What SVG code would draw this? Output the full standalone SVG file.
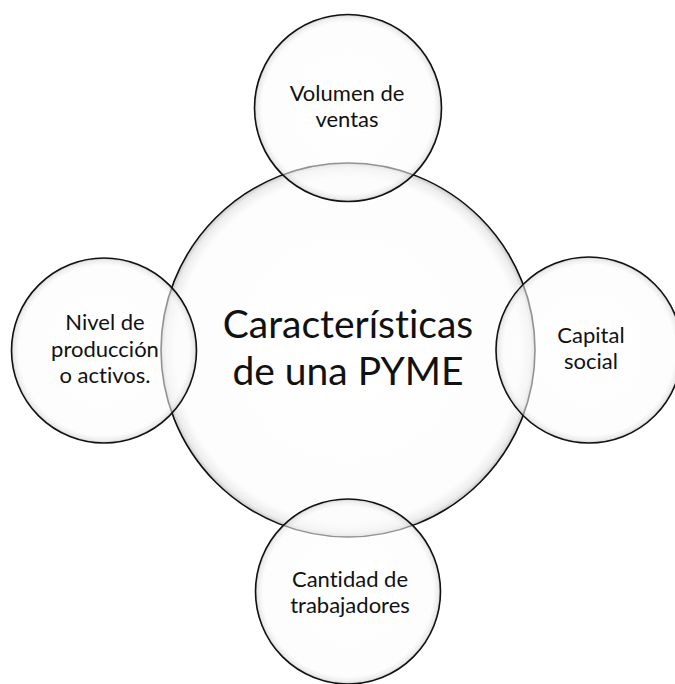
<svg xmlns="http://www.w3.org/2000/svg" width="675" height="684" viewBox="0 0 675 684">
<defs>
<radialGradient id="glow" cx="0.5" cy="0.5" r="0.5">
<stop offset="0" stop-color="#ffffff" stop-opacity="0.55"/>
<stop offset="0.92" stop-color="#fbfbfb" stop-opacity="0.55"/>
<stop offset="0.975" stop-color="#e0e0e0" stop-opacity="0.6"/>
<stop offset="1" stop-color="#b0b0b0" stop-opacity="0.7"/>
</radialGradient>
<style>
.c{fill:url(#glow);stroke:#111;stroke-width:1.6}
.t{font-family:Lato,"Open Sans","Liberation Sans",sans-serif;fill:#111;text-anchor:middle;font-variant-ligatures:none}
.s{font-size:22px}
.b{font-size:39px}
</style>
</defs>
<rect width="675" height="684" fill="#ffffff"/>
<g id="connectors"></g>
<g id="center">
<circle class="c" cx="348" cy="350" r="187"/>
<text class="t b" x="348" y="338">Características</text>
<text class="t b" x="348" y="385">de una PYME</text>
</g>
<g id="top">
<circle class="c" cx="348" cy="108" r="93.5"/>
<text class="t s" x="347" y="101">Volumen de</text>
<text class="t s" x="347" y="127">ventas</text>
</g>
<g id="left">
<circle class="c" cx="104" cy="350.5" r="92.5"/>
<text class="t s" x="105" y="330">Nivel de</text>
<text class="t s" x="105" y="357">producción</text>
<text class="t s" x="105" y="383">o activos.</text>
</g>
<g id="right">
<circle class="c" cx="589" cy="350" r="93"/>
<text class="t s" x="591" y="343">Capital</text>
<text class="t s" x="591" y="369">social</text>
</g>
<g id="bottom">
<circle class="c" cx="348" cy="591.5" r="92.5"/>
<text class="t s" x="350" y="587">Cantidad de</text>
<text class="t s" x="350" y="613">trabajadores</text>
</g>
</svg>
